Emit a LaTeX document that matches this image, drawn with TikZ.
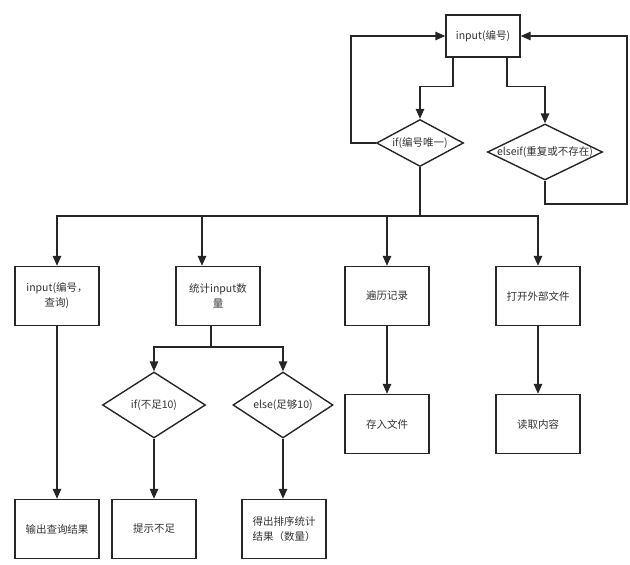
\documentclass[tikz,border=0pt]{standalone}
\usepackage{fontspec}
\setmainfont{Noto Sans CJK SC}
\usetikzlibrary{shapes.geometric,arrows.meta}

\begin{document}
\begin{tikzpicture}[x=1pt,y=-1pt,
    every node/.style={font=\fontsize{10.5}{15}\selectfont, text=black!80},
    box/.style={draw=black!85, line width=1.4pt, minimum width=84pt, minimum height=59pt, align=center, inner sep=2pt},
    decision/.style={draw=black!85, line width=1.4pt, diamond, inner sep=0pt},
    arr/.style={draw=black!85, line width=1.4pt, -{Triangle[length=10pt,width=8.5pt]}},
    ln/.style={draw=black!85, line width=1.4pt}]
        \useasboundingbox (0,0) rectangle (630,565);
        \node[box, minimum width=74pt, minimum height=42pt] (inp) at (483,36) {input(编号)};
        \node[decision, minimum width=87pt, minimum height=47pt] (uniq) at (420,143) {\makebox[0pt]{if(编号唯一)}};
        \node[decision, minimum width=115pt, minimum height=56pt] (other) at (545,152) {\makebox[0pt]{elseif(重复或不存在)}};
        \node[box] (query) at (57,296) {input(编号，\\查询)};
        \node[box] (count) at (218,296) {统计input数\\量};
        \node[box] (travel) at (387,296) {遍历记录};
        \node[box] (openf) at (538,296) {打开外部文件};
        \node[decision, minimum width=103pt, minimum height=66pt] (lack) at (154,405) {\makebox[0pt]{if(不足10)}};
        \node[decision, minimum width=100pt, minimum height=66pt] (enough) at (283,405) {\makebox[0pt]{else(足够10)}};
        \node[box] (save) at (387,424) {存入文件};
        \node[box] (read) at (538,424) {读取内容};
        \node[box] (result) at (57,529) {输出查询结果};
        \node[box] (hint) at (154,529) {提示不足};
        \node[box] (sorted) at (284,529) {得出排序统计\\结果（数量）};
        \coordinate (bus) at (420,216);
        \coordinate (loopr) at (627,204);
        \coordinate (split) at (211,347);
        \draw[arr] ([xshift=-30pt]inp.south) -- ++(0,29) -| (uniq.north);
        \draw[arr] ([xshift=24pt]inp.south) -- ++(0,29) -| (other.north);
        \draw[arr] (uniq.west) -- ++(-25,0) |- (inp.west);
        \draw[arr] (other.south) |- (loopr) |- (inp.east);
        \draw[ln] (uniq.south) -- (bus);
        \draw[arr] (bus) -| (query.north);
        \draw[arr] (bus) -| ([xshift=-16pt]count.north);
        \draw[arr] (bus) -| (travel.north);
        \draw[arr] (bus) -| (openf.north);
        \draw[arr] (query) -- (result);
        \draw[ln] ([xshift=-7pt]count.south) -- (split);
        \draw[arr] (split) -| (lack.north);
        \draw[arr] (split) -| (enough.north);
        \draw[arr] (lack) -- (hint);
        \draw[arr] (enough) -- ([xshift=-1pt]sorted.north);
        \draw[arr] (travel) -- (save);
        \draw[arr] (openf) -- (read);
\end{tikzpicture}
\end{document}
